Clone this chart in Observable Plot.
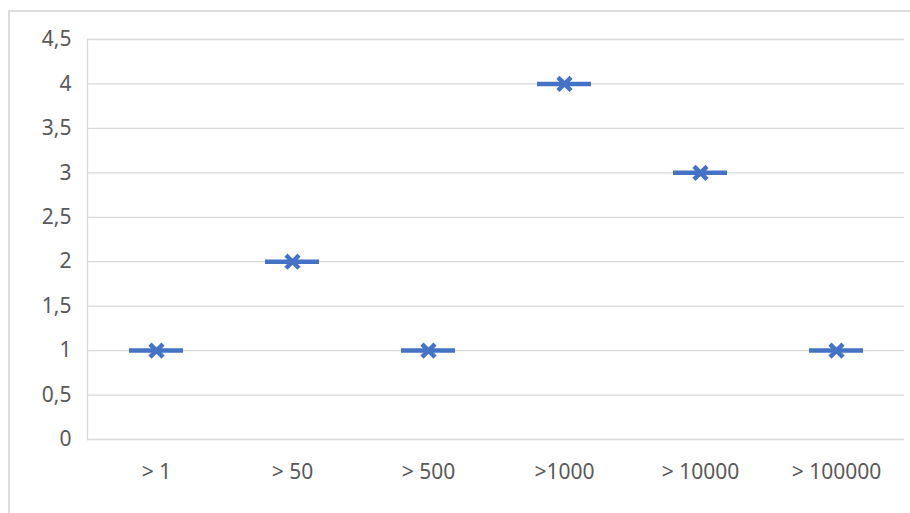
<!DOCTYPE html>
<html>
<head>
<meta charset="utf-8">
<script src="https://cdn.jsdelivr.net/npm/d3@7"></script>
<script src="https://cdn.jsdelivr.net/npm/@observablehq/plot@0.6"></script>
<style>
  html, body { margin: 0; padding: 0; background: #fff; }
  #wrap { position: relative; width: 910px; height: 513px; overflow: hidden; }
  #border {
    position: absolute; left: 8px; top: 10px; width: 1000px; height: 600px;
    border-left: 2px solid #dedede; border-top: 2px solid #dedede;
    pointer-events: none;
  }
  #wrap svg text { fill: #595959; }
</style>
</head>
<body>
<div id="wrap"><div id="border"></div></div>
<script>
// Categories along the x axis and one value per category
const categories = ["> 1", "> 50", "> 500", ">1000", "> 10000", "> 100000"];
const values = [1, 2, 1, 4, 3, 1];
// Value-axis gridlines / ticks
const yTicks = [0, 0.5, 1, 1.5, 2, 2.5, 3, 3.5, 4, 4.5];

const data = categories.map((c, i) => ({cat: c, v: values[i]}));
const blue = "#4472C4";
const grid = "#d9d9d9";

const chart = Plot.plot({
  width: 910,
  height: 513,
  marginLeft: 87,
  marginRight: 6,
  marginTop: 39,
  marginBottom: 74,
  style: {background: "transparent", fontFamily: "'Noto Sans', sans-serif", fontSize: "21px", color: "#595959"},
  x: {domain: categories, padding: 0, label: null, tickSize: 0, tickPadding: 25},
  y: {domain: [0, 4.5], ticks: yTicks, label: null, tickSize: 0, tickPadding: 16,
      tickFormat: d => String(d).replace(".", ",")},
  marks: [
    Plot.ruleY(yTicks, {stroke: grid, strokeWidth: 1.3}),
    Plot.frame({anchor: "left", stroke: grid, strokeWidth: 1.3}),
    Plot.tickY(data, {x: "cat", y: "v", stroke: blue, strokeWidth: 4.5, insetLeft: 41, insetRight: 41}),
    Plot.dot(data, {x: "cat", y: "v", symbol: "times", r: 6, stroke: blue, strokeWidth: 4.5})
  ]
});
document.getElementById("wrap").prepend(chart);
</script>
</body>
</html>
